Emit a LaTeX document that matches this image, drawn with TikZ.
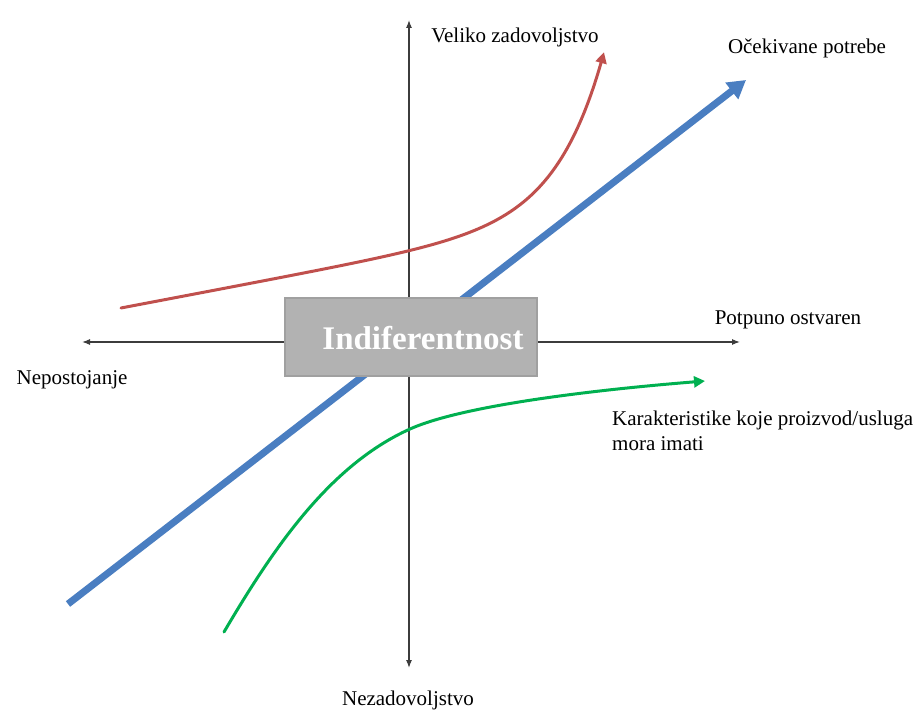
\documentclass[tikz,border=0pt]{standalone}
\usepackage{fontspec}
\setmainfont{Liberation Serif}
\usetikzlibrary{arrows.meta}
\definecolor{axisgray}{RGB}{60,60,60}
\definecolor{boxfill}{RGB}{178,178,178}
\definecolor{boxdraw}{RGB}{160,160,160}
\definecolor{bluecurve}{RGB}{74,126,193}
\definecolor{redcurve}{RGB}{192,80,77}
\definecolor{greencurve}{RGB}{0,176,80}
\tikzset{
  axis/.style={draw=axisgray, line width=1.1pt, -{Latex[length=8pt,width=6pt]}},
  lbl/.style={font=\fontsize{21}{25}\selectfont, inner sep=0pt},
  curve/.style={line width=3pt, line cap=round},
}
\begin{document}
\begin{tikzpicture}[x=1pt,y=-1pt]
\useasboundingbox (0,0) rectangle (914,711);
% axes
\coordinate (o) at (409,342);
\coordinate (top) at (409,20);
\coordinate (bot) at (409,668);
\coordinate (lft) at (82,342);
\coordinate (rgt) at (740,342);
\draw[axis] (o) -- (top);
\draw[axis] (o) -- (bot);
\draw[axis] (o) -- (lft);
\draw[axis] (o) -- (rgt);
% blue
\coordinate (b1) at (68,604);
\coordinate (b2) at (746,80);
\draw[bluecurve, line width=7pt, -{Triangle[length=18pt,width=20pt]}] (b1) -- (b2);
% red
\draw[redcurve, curve, -{Triangle[length=11pt,width=11pt]}] plot[domain=121:604, samples=120, smooth] (\x, {308 - 0.19*(\x-121) - exp((\x-364.3)/47)});
% green
\coordinate (g1) at (224,632);
\coordinate (g2) at (410,429);
\coordinate (g3) at (705,381);
\draw[greencurve, curve, -{Triangle[length=11pt,width=11pt]}] (g1) .. controls (274,547) and (330,465) .. (g2) .. controls (460,406.5) and (585,390.6) .. (g3);
% box
\node[draw=boxdraw, fill=boxfill, line width=1.5pt, minimum width=252pt, minimum height=78pt, inner sep=0pt] (box) at (411,337) {};
\node[text=white, font=\bfseries\fontsize{33}{36}\selectfont] (ind) at (423,338) {Indiferentnost};
% labels
\node[lbl] (vz) at (515,37) {Veliko zadovoljstvo};
\node[lbl] (op) at (807,48) {Očekivane potrebe};
\node[lbl] (po) at (788,320) {Potpuno ostvaren};
\node[lbl] (ne) at (72,380) {Nepostojanje};
\node[lbl, anchor=north west, align=left] (ka) at (612,411) {Karakteristike koje proizvod/usluga\\mora imati};
\node[lbl] (nz) at (408,700) {Nezadovoljstvo};
\end{tikzpicture}
\end{document}
